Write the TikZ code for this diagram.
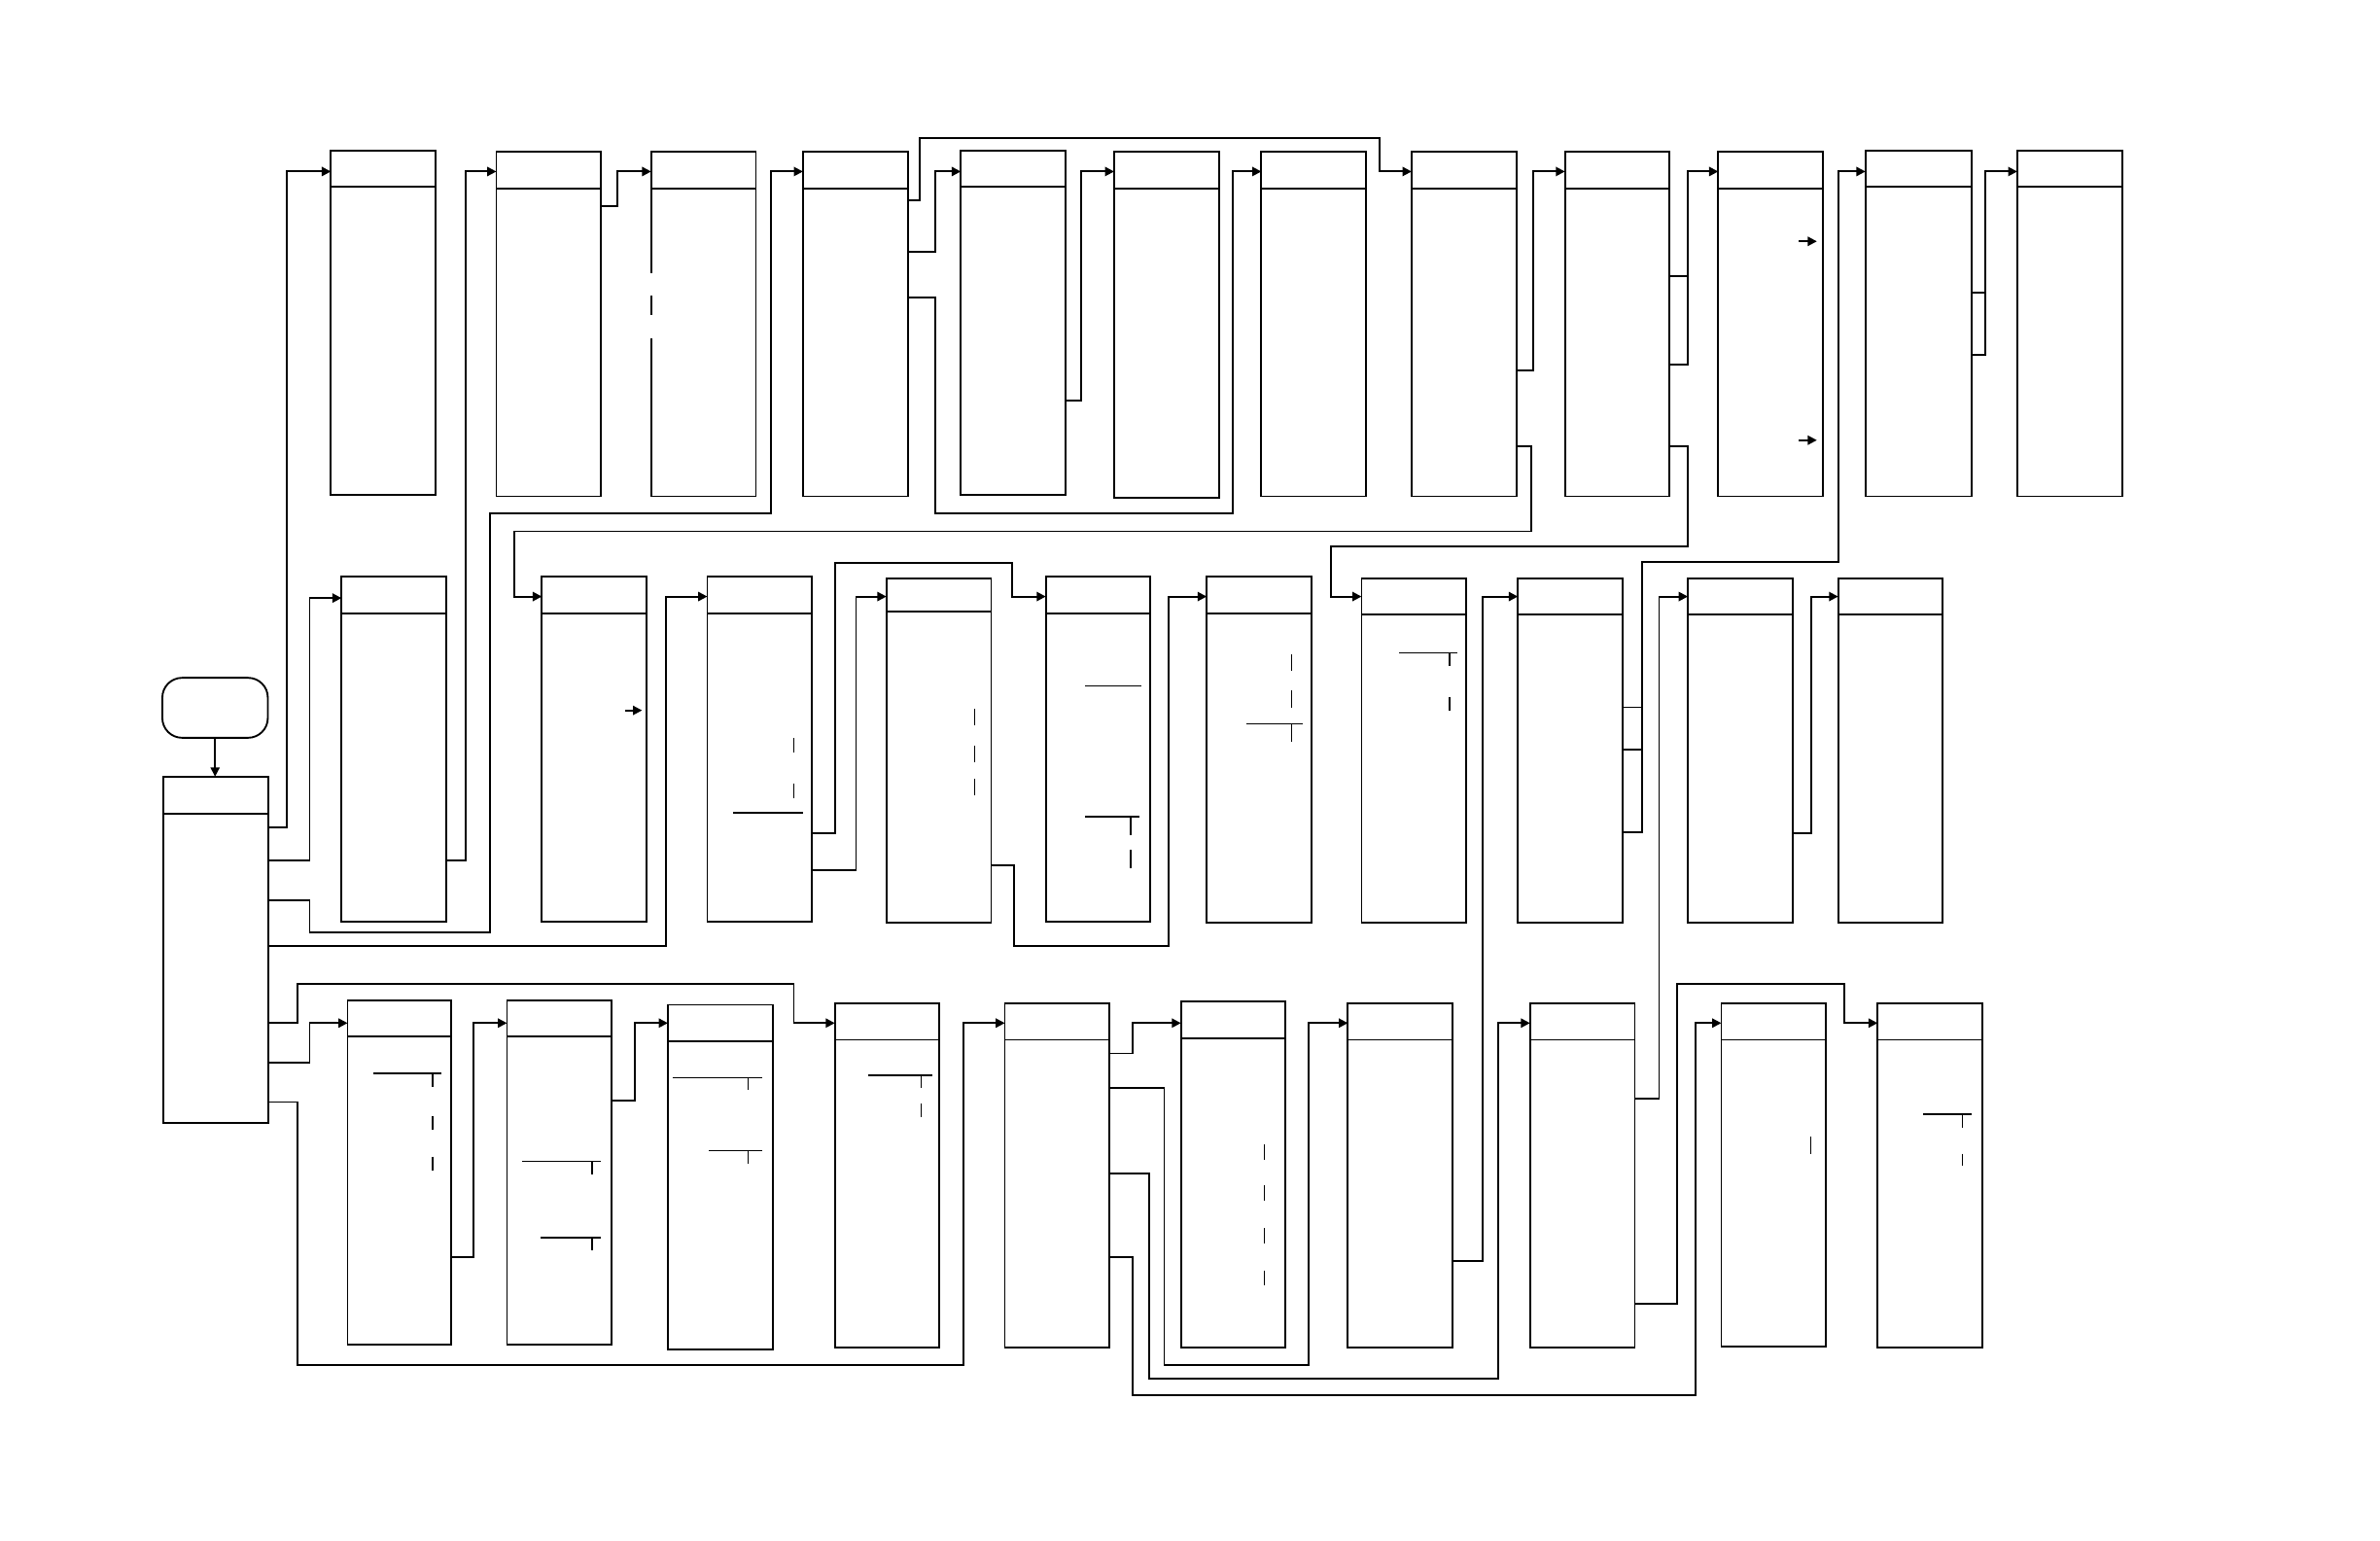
\documentclass[tikz,border=0pt]{standalone}
\usetikzlibrary{arrows.meta}
\tikzset{
  ln/.style={line width=1.2pt},
  box/.style={draw, line width=1.2pt, inner sep=0pt, outer sep=0pt},
  conn/.style={line width=1.2pt, -{Triangle[length=6pt,width=6pt]}},
  tick/.style={line width=1pt},
}
\newcommand{\cbox}[6]{%
  \node[box, minimum width={#4pt-#2pt}, minimum height={#5pt-#3pt}] (#1) at ({(#2+#4)/2},{(#3+#5)/2}) {};
  \draw[ln] (#1.west |- 0,#6) -- (#1.east |- 0,#6);
}
\begin{document}
\begin{tikzpicture}[x=1pt,y=-1pt]
\useasboundingbox (0,0) rectangle (1568,1015);
\fill[white] (0,0) rectangle (1568,1015);
% start
\node[draw, line width=1.2pt, rounded corners=13pt, minimum width=69.5pt, minimum height=39.5pt, inner sep=0pt, outer sep=0pt] (S) at (141.7,466.3) {};
\cbox{A}{107.5}{511.6}{176.8}{740}{536}
\draw[line width=1pt, -{Triangle[length=6pt,width=6pt]}] (S.south) -- (S.south |- A.north);
% row 1
\cbox{B1}{218}{99}{287}{326}{123}
\cbox{B2}{327}{100}{396}{327}{124}
\cbox{B3}{429}{100}{498}{327}{124}
\cbox{B4}{529}{100}{598}{327}{124}
\cbox{B5}{633}{99}{702}{326}{123}
\cbox{B6}{734}{100}{803}{328}{124}
\cbox{B7}{831}{100}{900}{327}{124}
\cbox{B8}{930}{100}{999}{327}{124}
\cbox{B9}{1031}{100}{1100}{327}{124}
\cbox{B10}{1132}{100}{1201}{327}{124}
\cbox{B11}{1229}{99}{1299}{327}{123}
\cbox{B12}{1329}{99}{1398}{327}{123}
% gaps in B3 left border
\fill[white] (427.5,180) rectangle (430.5,195);
\fill[white] (427.5,207.5) rectangle (430.5,223);
% row 2
\cbox{C1}{225}{380}{294}{607}{404}
\cbox{C2}{357}{380}{426}{607}{404}
\cbox{C3}{466}{380}{535}{607}{404}
\cbox{C4}{584}{381}{653}{608}{403}
\cbox{C5}{689}{380}{758}{607}{404}
\cbox{C6}{795}{380}{864}{608}{404}
\cbox{C7}{897}{381}{966}{608}{405}
\cbox{C8}{1000}{381}{1069}{608}{405}
\cbox{C9}{1112}{381}{1181}{608}{405}
\cbox{C10}{1211}{381}{1280}{608}{405}
% row 3
\cbox{D1}{229}{659}{297}{886}{683}
\cbox{D2}{334}{659}{403}{886}{683}
\cbox{D3}{440}{662}{509}{889}{686}
\cbox{D4}{550}{661}{619}{888}{685}
\cbox{D5}{662}{661}{731}{888}{685}
\cbox{D6}{778}{660}{847}{888}{684}
\cbox{D7}{888}{661}{957}{888}{685}
\cbox{D8}{1008}{661}{1077}{888}{685}
\cbox{D9}{1134}{661}{1203}{887}{685}
\cbox{D10}{1237}{661}{1306}{888}{685}
% connectors from A
\draw[conn] (A.east |- 0,545) -| (189,113) -- (B1.west |- 0,113);
\draw[conn] (A.east |- 0,567) -| (204,394) -- (C1.west |- 0,394);
\draw[conn] (A.east |- 0,593) -| (204,614) -| (323,338) -| (508,113) -- (B4.west |- 0,113);
\draw[conn] (A.east |- 0,623) -| (439,393) -- (C3.west |- 0,393);
\draw[conn] (A.east |- 0,674) -| (196,648) -| (523,674) -- (D4.west |- 0,674);
\draw[conn] (A.east |- 0,700) -| (204,674) -- (D1.west |- 0,674);
\draw[conn] (A.east |- 0,726) -| (196,899) -| (635,674) -- (D5.west |- 0,674);
% row 1 links
\draw[conn] (C1.east |- 0,567) -| (307,113) -- (B2.west |- 0,113);
\draw[conn] (B2.east |- 0,136) -| (407,113) -- (B3.west |- 0,113);
\draw[conn] (B4.east |- 0,132) -| (606,91) -| (909,113) -- (B8.west |- 0,113);
\draw[conn] (B4.east |- 0,166) -| (616,113) -- (B5.west |- 0,113);
\draw[conn] (B4.east |- 0,196) -| (616,338) -| (812,113) -- (B7.west |- 0,113);
\draw[conn] (B5.east |- 0,264) -| (712,113) -- (B6.west |- 0,113);
\draw[conn] (B8.east |- 0,244) -| (1010,113) -- (B9.west |- 0,113);
\draw[conn] (B8.east |- 0,294) -| (1009,350) -| (339,393) -- (C2.west |- 0,393);
\draw[conn] (B9.east |- 0,182) -| (1112,113) -- (B10.west |- 0,113);
\draw[ln] (B9.east |- 0,240) -| (1112,182);
\draw[conn] (B9.east |- 0,294) -| (1112,360) -| (877,393) -- (C7.west |- 0,393);
\draw[conn] (B11.east |- 0,193) -| (1308,113) -- (B12.west |- 0,113);
\draw[ln] (B11.east |- 0,234) -| (1308,193);
% row 2 links
\draw[conn] (C8.east |- 0,548) -| (1082,370) -| (1211,113) -- (B11.west |- 0,113);
\draw[ln] (C8.east |- 0,466) -- (1082,466);
\draw[ln] (C8.east |- 0,494) -- (1082,494);
\draw[conn] (C3.east |- 0,549) -| (550,371) -| (667,393) -- (C5.west |- 0,393);
\draw[conn] (C3.east |- 0,573) -| (564,393) -- (C4.west |- 0,393);
\draw[conn] (C4.east |- 0,570) -| (668,623) -| (770,393) -- (C6.west |- 0,393);
\draw[conn] (C9.east |- 0,549) -| (1193,393) -- (C10.west |- 0,393);
\draw[conn] (D8.east |- 0,724) -| (1093,393) -- (C9.west |- 0,393);
% row 3 links
\draw[conn] (D1.east |- 0,828) -| (312,674) -- (D2.west |- 0,674);
\draw[conn] (D2.east |- 0,725) -| (418,674) -- (D3.west |- 0,674);
\draw[conn] (D5.east |- 0,694) -| (746,674) -- (D6.west |- 0,674);
\draw[conn] (D5.east |- 0,717) -| (767,899) -| (862,674) -- (D7.west |- 0,674);
\draw[conn] (D5.east |- 0,773) -| (757,908) -| (987,674) -- (D8.west |- 0,674);
\draw[conn] (D5.east |- 0,828) -| (746,919) -| (1117,674) -- (D9.west |- 0,674);
\draw[conn] (D7.east |- 0,831) -| (977,393) -- (C8.west |- 0,393);
\draw[conn] (D8.east |- 0,859) -| (1105,648) -| (1215,674) -- (D10.west |- 0,674);
% small arrows inside boxes
\coordinate (c2a) at (412,468); \coordinate (c2b) at (423,468);
\draw[conn] (c2a) -- (c2b);
\coordinate (b10a) at (1185,159); \coordinate (b10b) at (1197,159);
\draw[conn] (b10a) -- (b10b);
\coordinate (b10c) at (1185,290); \coordinate (b10d) at (1197,290);
\draw[conn] (b10c) -- (b10d);
% tick marks
\draw[tick] (523,486) -- (523,496) (523,516) -- (523,526) (483,535.5) -- (529,535.5);
\draw[tick] (642,467) -- (642,478) (642,491) -- (642,502) (642,513) -- (642,524);
\draw[tick] (715,452) -- (752,452);
\draw[tick] (715,538) -- (751,538) (745,538) -- (745,550) (745,560) -- (745,572);
\draw[tick] (851,431) -- (851,442) (851,455) -- (851,466) (821,477) -- (858,477) (851,477) -- (851,489);
\draw[tick] (922,430) -- (960,430) (955,430) -- (955,439) (955,459) -- (955,468);
\draw[tick] (246,707) -- (291,707) (285,707) -- (285,716) (285,735) -- (285,744) (285,762) -- (285,771);
\draw[tick] (344,765) -- (396,765) (390,765) -- (390,774) (356,815.5) -- (396,815.5) (390,815.5) -- (390,824);
\draw[tick] (443,710) -- (502,710) (493,710) -- (493,718) (467,758) -- (502,758) (493,758) -- (493,767);
\draw[tick] (572,708.5) -- (614,708.5) (607,708.5) -- (607,717) (607,727) -- (607,736);
\draw[tick] (833,754) -- (833,764) (833,781) -- (833,791) (833,809) -- (833,819) (833,837) -- (833,847);
\draw[tick] (1193,749) -- (1193,760);
\draw[tick] (1267,734) -- (1299,734) (1293,734) -- (1293,743) (1293,760) -- (1293,768);
\end{tikzpicture}
\end{document}
